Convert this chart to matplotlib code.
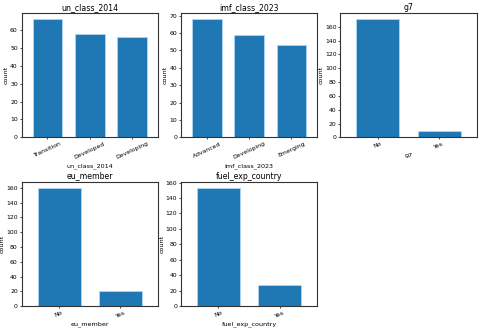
import matplotlib
matplotlib.use("Agg")
import matplotlib.pyplot as plt
import numpy as np

plt.rcParams['font.family'] = ['Liberation Sans Narrow', 'DejaVu Sans']

un_labels = ["Transition", "Developed", "Developing"]
un_counts = [66, 58, 56]
imf_labels = ["Advanced", "Developing", "Emerging"]
imf_counts = [68, 59, 53]
g7_labels = ["No", "Yes"]
g7_counts = [171, 9]
eu_labels = ["No", "Yes"]
eu_counts = [160, 20]
fuel_labels = ["No", "Yes"]
fuel_counts = [153, 27]

columns = [
    ("un_class_2014", un_labels, un_counts),
    ("imf_class_2023", imf_labels, imf_counts),
    ("g7", g7_labels, g7_counts),
    ("eu_member", eu_labels, eu_counts),
    ("fuel_exp_country", fuel_labels, fuel_counts),
]

fig, axes = plt.subplots(2, 3, figsize=(4.8, 3.32), dpi=100)
fig.subplots_adjust(left=0.045, right=0.993, top=0.96, bottom=0.078,
                    wspace=0.17, hspace=0.36)

for ax, (name, labels, counts) in zip(axes.flat, columns):
    x_pos = np.arange(len(labels))
    ax.bar(x_pos, counts, width=0.7, color="#1f77b4", edgecolor="#aed6f1", linewidth=0.6)
    ax.set_xlim(-0.61, len(labels) - 0.39)
    ax.set_xticks(x_pos, labels=labels, rotation=25)
    ax.set_title(name, fontsize=5.6, pad=2.5)
    ax.set_xlabel(name, fontsize=4.6, labelpad=2)
    ax.set_ylabel("count", fontsize=4.6, labelpad=1)
    ax.tick_params(labelsize=4.4, length=1.5, width=0.5, pad=1.2)
    for side in ax.spines.values():
        side.set_linewidth(0.8)
        side.set_color("#333333")

axes[1, 2].remove()
fig.savefig("out.png", dpi=100)
